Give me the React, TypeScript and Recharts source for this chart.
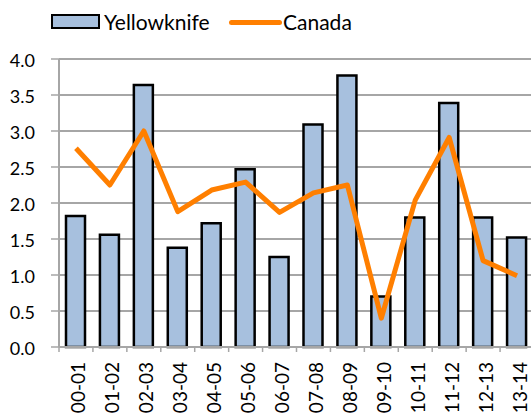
import React from "react";
import { ComposedChart, Bar, Line, XAxis, YAxis, CartesianGrid, Legend } from "recharts";

const categories = ["00-01", "01-02", "02-03", "03-04", "04-05", "05-06", "06-07", "07-08", "08-09", "09-10", "10-11", "11-12", "12-13", "13-14"];
const yellowknife = [1.82, 1.56, 3.64, 1.38, 1.72, 2.47, 1.25, 3.09, 3.77, 0.7, 1.8, 3.39, 1.8, 1.52];
const canada = [2.76, 2.25, 3.0, 1.88, 2.18, 2.29, 1.87, 2.14, 2.25, 0.4, 2.04, 2.91, 1.2, 0.99];
const yTicks = [0, 0.5, 1, 1.5, 2, 2.5, 3, 3.5, 4];

const data = categories.map((c, i) => ({ cat: c, Yellowknife: yellowknife[i], Canada: canada[i] }));

const W = 545;
const H = 414;
const MARGIN = { top: 0, right: 11, bottom: 0, left: 0 };
const YAXIS_W = 59;
const XAXIS_H = 67;
const LEGEND_H = 59;
const PLOT_W = W - MARGIN.left - MARGIN.right - YAXIS_W;
const BAND = PLOT_W / categories.length;
const PLOT_BOTTOM = H - MARGIN.bottom - XAXIS_H;

const FONT = "Lato, 'DejaVu Sans', sans-serif";
const BAR_FILL = "#a7c0de";
const LINE_COLOR = "#ff7f00";
const GRID = "#a6a6a6";

const XTick = (props: any) => {
  const { x, payload } = props;
  return (
    <g>
      <line x1={x - BAND / 2} x2={x - BAND / 2} y1={PLOT_BOTTOM} y2={PLOT_BOTTOM + 5} stroke={GRID} strokeWidth={1.5} />
      <text
        transform={`translate(${x + 2},${PLOT_BOTTOM + 15}) rotate(-90)`}
        textAnchor="end"
        dominantBaseline="central"
        fontFamily={FONT}
        fontSize={19}
        fill="#000"
      >
        {payload.value}
      </text>
    </g>
  );
};

const LegendContent = () => (
  <div style={{ position: "relative", height: LEGEND_H, width: 530, fontFamily: FONT, fontSize: 21, color: "#000" }}>
    <div style={{ position: "absolute", left: 51, top: 14, width: 49, height: 15, boxSizing: "border-box", border: "2.5px solid #000", background: BAR_FILL }} />
    <div style={{ position: "absolute", left: 104, top: 9, lineHeight: "26px" }}>Yellowknife</div>
    <div style={{ position: "absolute", left: 229, top: 20, width: 53, height: 5, borderRadius: 3, background: LINE_COLOR }} />
    <div style={{ position: "absolute", left: 283, top: 9, lineHeight: "26px" }}>Canada</div>
  </div>
);

export default function App() {
  return (
    <div style={{ position: "fixed", left: 0, top: 0, width: 531, height: 414, overflow: "hidden", background: "#fff" }}>
      <ComposedChart width={W} height={H} data={data} margin={MARGIN} barSize={19}>
        <CartesianGrid vertical={false} stroke={GRID} strokeWidth={2} />
        <XAxis
          dataKey="cat"
          height={XAXIS_H}
          interval={0}
          tickLine={false}
          axisLine={{ stroke: GRID, strokeWidth: 2 }}
          tick={<XTick />}
        />
        <YAxis
          width={YAXIS_W}
          domain={[0, 4]}
          ticks={yTicks}
          interval={0}
          tickFormatter={(v: number) => v.toFixed(1)}
          tickSize={8}
          tickMargin={16}
          tickLine={{ stroke: GRID, strokeWidth: 1.5 }}
          axisLine={{ stroke: GRID, strokeWidth: 2 }}
          tick={{ fontFamily: FONT, fontSize: 18, fill: "#000", dy: 2 }}
        />
        <Legend verticalAlign="top" wrapperStyle={{ top: 0, left: 0 }} content={<LegendContent />} />
        <Bar dataKey="Yellowknife" fill={BAR_FILL} stroke="#000" strokeWidth={2.5} isAnimationActive={false} />
        <Line dataKey="Canada" stroke={LINE_COLOR} strokeWidth={5} dot={false} strokeLinejoin="round" isAnimationActive={false} />
      </ComposedChart>
    </div>
  );
}
